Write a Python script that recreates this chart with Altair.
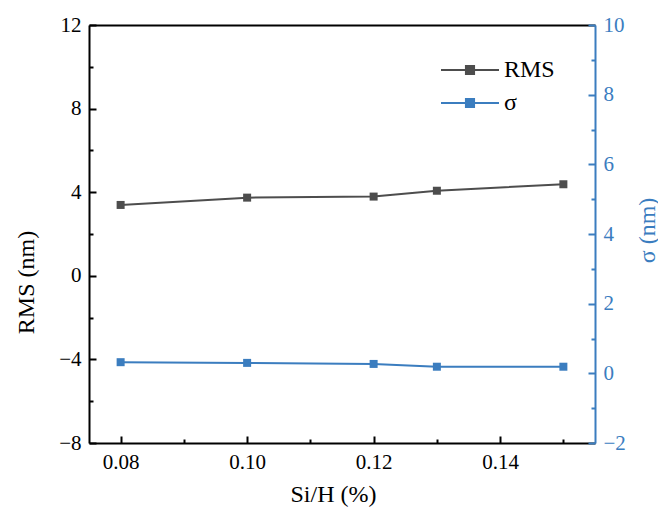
import altair as alt
import pandas as pd

# ---- data ----
si_h = [0.08, 0.10, 0.12, 0.13, 0.15]
rms = [3.39, 3.74, 3.79, 4.07, 4.38]
sigma = [0.32, 0.30, 0.27, 0.19, 0.19]
series = ["RMS", "σ"]
colors = ["#4d4d4d", "#3b7dbf"]

x_domain = [0.075, 0.155]
rms_domain = [-8, 12]
sigma_domain = [-2, 10]
x_major = [0.08, 0.10, 0.12, 0.14]
x_minor = [0.09, 0.11, 0.13, 0.15]
rms_major = [-8, -4, 0, 4, 8, 12]
rms_minor = [-6, -2, 2, 6, 10]
sigma_major = [-2, 0, 2, 4, 6, 8, 10]
sigma_minor = [-1, 1, 3, 5, 7, 9]

df_rms = pd.DataFrame({"x": si_h, "y": rms, "series": series[0]})
df_sig = pd.DataFrame({"x": si_h, "y": sigma, "series": series[1]})

FONT = "Liberation Serif, Times New Roman, serif"
BLACK = "#000000"
BLUE = colors[1]

def X(axis):
    return alt.X("x:Q", scale=alt.Scale(domain=x_domain, nice=False, zero=False), axis=axis)

def Y(domain, axis):
    return alt.Y("y:Q", scale=alt.Scale(domain=domain, nice=False, zero=False), axis=axis)

color_enc = alt.Color(
    "series:N",
    scale=alt.Scale(domain=series, range=colors),
    legend=alt.Legend(
        orient="none", legendX=351, legendY=30, title=None,
        symbolType="M-1,0H1M-0.14,-0.14H0.14V0.14H-0.14Z",
        symbolSize=3364, symbolStrokeWidth=2, clipHeight=30,
        labelFont=FONT, labelFontSize=24, labelColor=BLACK,
        labelOffset=4, rowPadding=3, padding=0,
    ),
)

point_def = alt.OverlayMarkDef(shape="square", size=64, filled=True, opacity=1)

rms_layer = alt.Chart(df_rms).mark_line(strokeWidth=2, point=point_def).encode(
    x=X(alt.Axis(orient="bottom", values=x_major, format=".2f", title="Si/H (%)",
                 ticks=False, tickSize=0, labelPadding=8,
                 titleX=244, titleY=58, titleAlign="center", titleBaseline="alphabetic",
                 domainColor=BLACK, domainWidth=2, grid=False)),
    y=Y(rms_domain, alt.Axis(orient="left", values=rms_major, format="d", title="RMS (nm)",
                             ticks=False, tickSize=0, labelPadding=8,
                             titleX=-63, titleY=257, titleAngle=270,
                             titleAlign="center", titleBaseline="middle",
                             domainColor=BLACK, domainWidth=2, grid=False)),
    color=color_enc,
)

sig_layer = alt.Chart(df_sig).mark_line(strokeWidth=2, point=point_def).encode(
    x=X(alt.Axis(orient="top", labels=False, ticks=False, tickSize=0, title=None,
                 domainColor=BLACK, domainWidth=2, grid=False)),
    y=Y(sigma_domain, alt.Axis(orient="right", values=sigma_major, format="d", title="σ (nm)",
                               ticks=False, tickSize=0, labelPadding=8,
                               titleX=52, titleY=205, titleAngle=270,
                               titleAlign="center", titleBaseline="middle",
                               labelColor=BLUE, titleColor=BLUE,
                               domainColor=BLUE, domainWidth=2, grid=False)),
    color=color_enc,
)

def tick_axis(orient, values, size, color):
    return alt.Axis(orient=orient, values=values, offset=-size, tickSize=size, tickWidth=2,
                    tickColor=color, labels=False, domain=False, grid=False, title=None)

rms_major_ticks = alt.Chart(df_rms).mark_point(opacity=0).encode(
    x=X(tick_axis("bottom", x_major, 7, BLACK)),
    y=Y(rms_domain, tick_axis("left", rms_major, 7, BLACK)),
)
rms_minor_ticks = alt.Chart(df_rms).mark_point(opacity=0).encode(
    x=X(tick_axis("bottom", x_minor, 4, BLACK)),
    y=Y(rms_domain, tick_axis("left", rms_minor, 4, BLACK)),
)
sig_major_ticks = alt.Chart(df_sig).mark_point(opacity=0).encode(
    x=X(None),
    y=Y(sigma_domain, tick_axis("right", sigma_major, 7, BLUE)),
)
sig_minor_ticks = alt.Chart(df_sig).mark_point(opacity=0).encode(
    x=X(None),
    y=Y(sigma_domain, tick_axis("right", sigma_minor, 4, BLUE)),
)

chart = alt.layer(
    rms_layer, sig_layer, rms_major_ticks, rms_minor_ticks, sig_major_ticks, sig_minor_ticks
).resolve_scale(
    x="independent", y="independent", color="shared"
).resolve_axis(
    x="independent", y="independent"
).properties(
    width=506, height=418,
    autosize=alt.AutoSizeParams(type="none"),
    padding={"left": 81, "top": 17, "right": 63, "bottom": 65},
).configure_view(
    stroke=None
).configure_axis(
    labelFont=FONT, titleFont=FONT, labelFontSize=21, titleFontSize=24,
    titleFontWeight="normal", labelColor=BLACK, titleColor=BLACK,
)

chart.save("out.html", embed_options={"renderer": "svg", "actions": False})
